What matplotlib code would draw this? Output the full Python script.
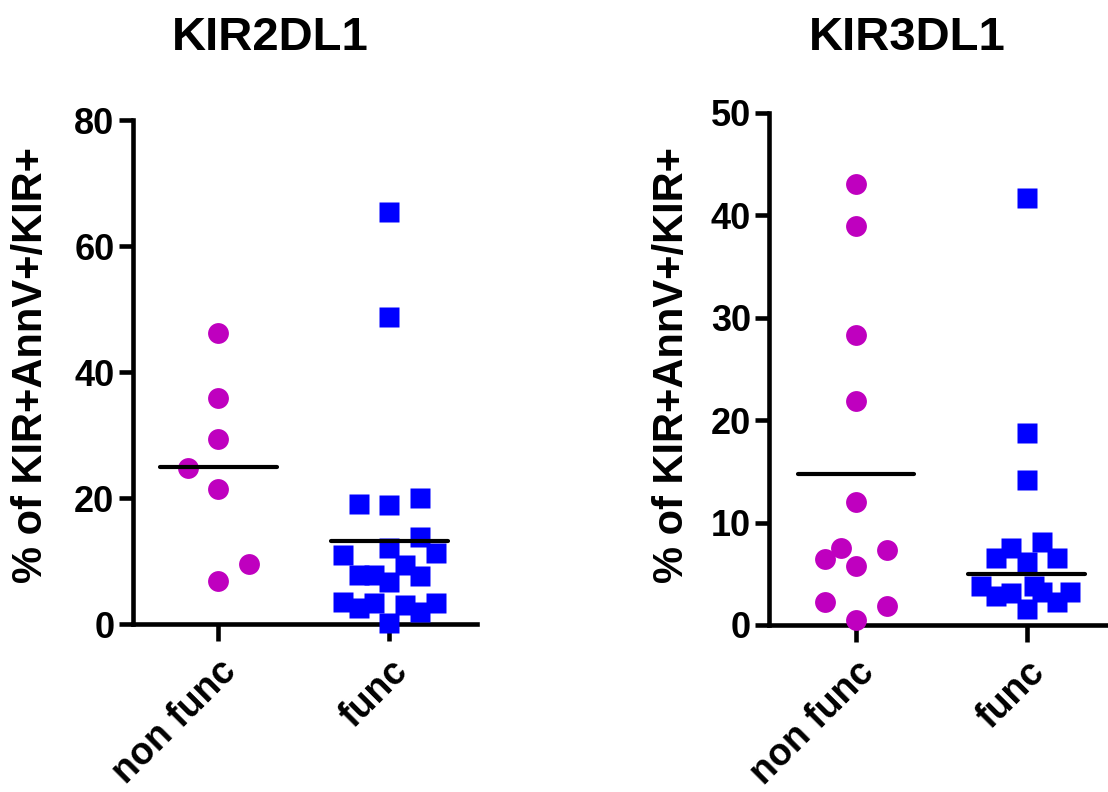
import matplotlib
matplotlib.use('Agg')
import matplotlib.pyplot as plt
import numpy as np

plt.rcParams['font.family'] = ['Liberation Sans', 'DejaVu Sans']
plt.rcParams['font.weight'] = 'bold'

groups = ['non func', 'func']

# KIR2DL1
kir2_nonfunc = [46.2, 35.9, 29.3, 24.8, 21.4, 9.6, 6.8]
kir2_func = [65.4, 48.7, 20.0, 19.0, 18.9, 13.8, 12.1, 11.3, 11.0, 9.4, 7.8,
             7.7, 7.6, 6.7, 3.5, 3.4, 3.4, 3.0, 2.5, 1.9, 0.1]
kir2_line = [24.9, 13.2]

# KIR3DL1
kir3_nonfunc = [43.1, 39.0, 28.3, 21.9, 12.0, 7.5, 7.3, 6.4, 5.8, 2.2, 1.9, 0.5]
kir3_func = [41.7, 18.75, 14.2, 8.1, 7.5, 6.5, 6.5, 6.2, 3.8, 3.8, 3.2, 3.2,
             3.1, 2.8, 2.2, 1.6]
kir3_line = [14.7, 5.0]

# scatter columns (jitter slots, half-marker steps) as drawn in the original
kir2_nonfunc_slot = [0, 0, 0, -2, 0, 2, 0]
kir2_func_slot = [0, 0, 2, -2, 0, 2, 0, 3, -3, 1, -1, -2, 2, 0, -3, -1, 3, 1, -2, 2, 0]
kir3_nonfunc_slot = [0, 0, 0, 0, 0, -1, 2, -2, 0, -2, 2, 0]
kir3_func_slot = [0, 0, 0, 1, -1, -2, 2, 0, -3, 0.5, 1, 2.8, -1, -2, 2, 0]

MAGENTA = '#BF00BF'
BLUE = '#0000FF'
SLOT = 0.09
LW = 3.3

fig = plt.figure(figsize=(11.08, 7.92), dpi=100)
ax1 = fig.add_axes([132.5 / 1108, 168 / 792, 344.5 / 1108, 504 / 792])
ax2 = fig.add_axes([769 / 1108, 167 / 792, 337 / 1108, 512 / 792])


def draw_panel(ax, nonfunc, func, nf_slot, f_slot, line, ymax, step, xlim):
    ax.plot(0 + np.array(nf_slot) * SLOT, nonfunc, 'o', ms=15, color=MAGENTA,
            mec='none', clip_on=False, zorder=3)
    ax.plot(1 + np.array(f_slot) * SLOT, func, 's', ms=15, color=BLUE,
            mec='none', clip_on=False, zorder=3)
    for i, v in enumerate(line):
        ax.plot([i - 0.342, i + 0.342], [v, v], color='black', lw=3,
                solid_capstyle='round', zorder=4)
    ax.set_xlim(*xlim)
    ax.set_ylim(0, ymax)
    ax.set_yticks(np.arange(0, ymax + 1, step))
    ax.set_xticks([0, 1])
    ax.set_xticklabels(groups, rotation=45, ha='right', va='top',
                       rotation_mode='anchor')
    for s in ['top', 'right']:
        ax.spines[s].set_visible(False)
    for s in ['left', 'bottom']:
        ax.spines[s].set_linewidth(LW)
        ax.spines[s].set_zorder(2)
    ax.tick_params(axis='y', length=10, width=LW, labelsize=26, pad=3)
    ax.tick_params(axis='x', length=12, width=LW, labelsize=27, pad=9)
    for lab in ax.get_xticklabels() + ax.get_yticklabels():
        lab.set_fontweight('bold')


draw_panel(ax1, kir2_nonfunc, kir2_func, kir2_nonfunc_slot, kir2_func_slot,
           kir2_line, 80, 20, (-0.503, 1.512))
draw_panel(ax2, kir3_nonfunc, kir3_func, kir3_nonfunc_slot, kir3_func_slot,
           kir3_line, 50, 10, (-0.51, 1.465))

fig.text(270 / 1108, 1 - 50 / 792, 'KIR2DL1', ha='center', va='baseline',
         fontsize=34, fontweight='bold')
fig.text(907 / 1108, 1 - 50 / 792, 'KIR3DL1', ha='center', va='baseline',
         fontsize=34, fontweight='bold')

ylab = '% of KIR+AnnV+/KIR+'
fig.text(31 / 1108, 1 - 365 / 792, ylab, rotation=90, ha='center', va='center',
         fontsize=30, fontweight='bold')
fig.text(672 / 1108, 1 - 365 / 792, ylab, rotation=90, ha='center', va='center',
         fontsize=30, fontweight='bold')

fig.savefig('out.png', dpi=100)
